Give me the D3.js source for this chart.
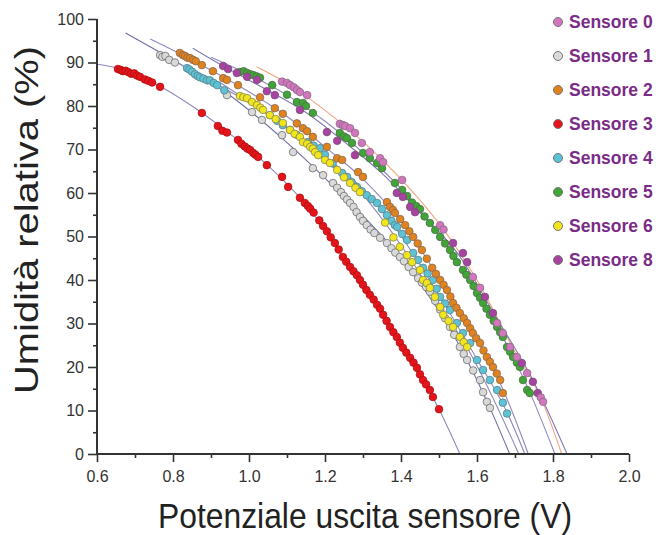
<!DOCTYPE html>
<html><head><meta charset="utf-8">
<script src="https://cdn.jsdelivr.net/npm/d3@7"></script>
<style>
html,body{margin:0;padding:0;background:#fff;}
svg{display:block;font-family:"Liberation Sans",Arial,sans-serif;}
</style></head>
<body><svg id="c" width="663" height="535"></svg>
<script>
// ---------- data ----------
const sensorNames = ["Sensore 0","Sensore 1","Sensore 2","Sensore 3","Sensore 4","Sensore 5","Sensore 6","Sensore 8"];
const xTicks = [0.6,0.8,1.0,1.2,1.4,1.6,1.8,2.0];
const yTicks = [0,10,20,30,40,50,60,70,80,90,100];
const xLabel = "Potenziale uscita sensore (V)";
const yLabel = "Umidità relativa (%)";

const s0 = [[1.087,85.6],[1.100,85.3],[1.108,84.8],[1.118,84.3],[1.126,83.7],[1.134,83.2],[1.153,82.5],[1.239,75.9],[1.247,75.6],[1.253,75.4],[1.266,74.9],[1.279,73.8],[1.297,71.5],[1.318,69.4],[1.345,68.0],[1.353,67.1],[1.403,63.0],[1.503,52.6],[1.512,51.6],[1.589,40.7],[1.608,38.2],[1.653,30.1],[1.668,27.8],[1.687,24.6],[1.705,22.3],[1.732,18.6],[1.768,13.0],[1.774,12.0]];
const s1 = [[0.766,91.7],[0.772,91.3],[0.780,91.5],[0.790,90.6],[0.805,90.0],[0.942,82.5],[1.008,78.6],[1.034,76.8],[1.087,73.3],[1.116,69.4],[1.168,65.7],[1.195,64.1],[1.221,62.3],[1.232,61.2],[1.242,60.2],[1.250,59.3],[1.258,58.5],[1.266,57.7],[1.275,56.8],[1.283,55.6],[1.292,54.5],[1.300,53.6],[1.310,52.6],[1.320,51.6],[1.330,50.8],[1.345,49.7],[1.363,48.5],[1.375,47.3],[1.385,46.3],[1.397,45.3],[1.408,44.3],[1.420,43.0],[1.432,41.8],[1.445,40.4],[1.455,39.4],[1.466,38.4],[1.476,37.3],[1.490,35.2],[1.503,33.2],[1.516,31.2],[1.529,29.2],[1.540,27.4],[1.555,24.6],[1.565,23.0],[1.574,21.6],[1.590,19.2],[1.608,17.0],[1.616,14.2],[1.626,12.0],[1.634,10.6]];
const s2 = [[0.818,92.2],[0.826,91.7],[0.832,91.5],[0.838,91.1],[0.845,91.0],[0.853,90.6],[0.860,90.3],[0.876,89.4],[0.905,88.0],[0.932,86.4],[0.942,86.0],[0.971,84.8],[1.029,82.0],[1.068,79.5],[1.089,78.2],[1.126,76.0],[1.142,74.9],[1.153,74.2],[1.168,72.9],[1.205,70.6],[1.232,68.0],[1.245,67.6],[1.287,64.8],[1.300,63.7],[1.363,57.9],[1.371,56.8],[1.379,56.1],[1.384,55.4],[1.398,54.0],[1.411,52.6],[1.422,51.2],[1.432,49.9],[1.444,48.4],[1.455,46.9],[1.468,44.9],[1.482,42.8],[1.492,41.4],[1.503,40.0],[1.512,38.9],[1.521,37.7],[1.530,36.2],[1.537,34.7],[1.546,33.6],[1.555,32.4],[1.565,31.2],[1.574,30.1],[1.582,28.9],[1.589,27.8],[1.598,26.6],[1.608,25.5],[1.617,23.8],[1.626,22.3],[1.634,21.2],[1.642,20.0],[1.652,18.5],[1.661,17.0],[1.668,14.0]];
const s3 = [[0.655,88.5],[0.662,88.3],[0.668,88.0],[0.675,88.1],[0.682,87.8],[0.690,87.4],[0.698,87.5],[0.705,87.0],[0.713,86.7],[0.726,86.1],[0.735,85.8],[0.745,85.4],[0.766,84.4],[0.876,78.4],[0.918,75.4],[0.930,74.3],[0.942,73.9],[0.971,72.2],[0.980,71.3],[0.989,70.7],[0.996,70.2],[1.003,69.9],[1.011,69.2],[1.017,68.8],[1.024,68.3],[1.047,66.4],[1.087,63.7],[1.103,61.4],[1.134,58.9],[1.147,57.7],[1.155,57.0],[1.161,56.4],[1.170,55.5],[1.185,53.7],[1.195,52.4],[1.205,51.2],[1.215,49.8],[1.226,48.5],[1.236,47.0],[1.247,45.3],[1.256,44.2],[1.266,43.0],[1.275,42.0],[1.284,41.1],[1.292,40.0],[1.300,38.9],[1.309,37.7],[1.318,36.6],[1.328,35.5],[1.337,34.3],[1.345,33.4],[1.353,32.0],[1.362,30.6],[1.371,29.2],[1.380,28.0],[1.389,26.9],[1.397,25.6],[1.405,24.4],[1.414,23.3],[1.424,22.1],[1.433,21.0],[1.442,19.8],[1.450,18.3],[1.458,17.0],[1.466,16.0],[1.476,14.7],[1.484,13.1],[1.500,10.3]];
const s4 = [[0.837,88.7],[0.843,88.4],[0.850,87.9],[0.858,87.3],[0.865,86.9],[0.871,86.6],[0.880,86.3],[0.890,85.9],[0.897,85.9],[0.907,85.3],[0.916,84.8],[0.935,83.6],[1.055,77.9],[1.074,76.6],[1.089,75.6],[1.108,74.5],[1.125,73.4],[1.155,71.7],[1.170,70.9],[1.187,70.3],[1.200,68.8],[1.220,66.8],[1.245,64.6],[1.258,63.7],[1.270,62.5],[1.284,61.4],[1.297,60.4],[1.310,59.5],[1.323,58.6],[1.337,57.7],[1.350,56.3],[1.363,54.9],[1.375,53.6],[1.384,52.6],[1.390,52.2],[1.403,50.6],[1.416,49.2],[1.432,46.2],[1.445,44.6],[1.458,42.8],[1.470,41.5],[1.484,40.0],[1.494,38.0],[1.503,36.1],[1.516,34.6],[1.529,33.1],[1.547,30.1],[1.563,27.8],[1.582,25.5],[1.600,21.6],[1.616,19.3],[1.634,17.0],[1.653,14.7],[1.668,11.8],[1.679,9.3]];
const s5 = [[0.976,87.8],[0.986,88.0],[0.995,87.6],[1.003,87.3],[1.011,87.1],[1.020,86.8],[1.029,86.5],[1.061,84.8],[1.100,82.6],[1.126,80.9],[1.142,80.7],[1.150,80.0],[1.168,78.4],[1.239,73.8],[1.250,73.0],[1.258,72.6],[1.271,71.5],[1.300,69.2],[1.318,68.0],[1.337,66.9],[1.350,65.7],[1.384,62.3],[1.403,60.7],[1.416,59.3],[1.429,57.8],[1.440,57.0],[1.450,56.3],[1.462,54.6],[1.476,53.1],[1.490,51.5],[1.503,49.9],[1.516,48.4],[1.529,46.9],[1.538,45.5],[1.547,44.1],[1.563,42.3],[1.572,41.2],[1.582,40.0],[1.591,38.6],[1.600,37.0],[1.608,35.9],[1.616,34.7],[1.625,33.4],[1.634,32.0],[1.644,30.6],[1.653,29.2],[1.661,28.0],[1.668,26.9],[1.679,24.6],[1.687,23.5],[1.695,22.3],[1.705,21.0],[1.713,20.0],[1.721,17.0],[1.732,14.7],[1.739,14.0]];
const s6 = [[0.976,82.3],[0.985,82.0],[0.995,81.8],[1.008,80.9],[1.021,80.2],[1.030,79.6],[1.037,79.1],[1.055,77.9],[1.070,77.0],[1.089,76.1],[1.108,74.5],[1.120,73.6],[1.134,72.9],[1.142,71.7],[1.153,71.3],[1.161,70.6],[1.168,70.2],[1.174,69.4],[1.182,68.7],[1.200,67.6],[1.213,66.9],[1.232,65.3],[1.250,63.6],[1.266,62.3],[1.280,61.2],[1.292,60.2],[1.358,53.2],[1.380,49.8],[1.397,47.6],[1.416,45.7],[1.429,44.1],[1.450,42.3],[1.458,40.0],[1.468,39.3],[1.476,38.2],[1.489,36.1],[1.503,33.8],[1.511,32.0],[1.525,30.6],[1.537,29.2],[1.555,26.9],[1.565,25.7],[1.574,24.6]];
const s8 = [[0.932,89.2],[0.945,88.5],[0.968,87.6],[0.995,86.7],[1.021,86.0],[1.047,83.4],[1.068,82.5],[1.134,79.1],[1.205,74.0],[1.232,72.0],[1.279,68.7],[1.389,60.0],[1.405,59.1],[1.424,56.8],[1.437,55.6],[1.537,48.5],[1.563,46.2],[1.574,44.1],[1.621,36.1],[1.642,32.4],[1.718,20.9],[1.747,16.6],[1.760,14.0]];

// fitted curves
const fit0 = [[1.02,89.0],[1.10,85.2],[1.20,79.0],[1.30,71.8],[1.40,63.2],[1.50,53.0],[1.60,40.0],[1.70,23.5],[1.77,12.5],[1.823,0]];
const fit1 = [[0.675,96.8],[0.80,90.6],[0.95,82.4],[1.10,71.6],[1.25,59.1],[1.40,45.0],[1.55,25.5],[1.634,10.6],[1.686,0]];
const fit2 = [[0.74,95.4],[0.85,90.6],[0.97,84.8],[1.10,77.6],[1.20,70.6],[1.30,63.2],[1.40,53.5],[1.50,40.5],[1.60,26.5],[1.67,14.5],[1.735,0]];
const fit3 = [[0.60,89.6],[0.66,88.6],[0.75,85.3],[0.85,80.0],[0.95,73.6],[1.05,66.3],[1.15,57.3],[1.25,45.0],[1.35,32.3],[1.45,18.3],[1.50,10.3],[1.555,0]];
const fit4 = [[0.78,91.4],[0.90,85.8],[1.05,78.0],[1.20,68.5],[1.35,56.2],[1.50,36.5],[1.60,21.8],[1.68,9.4],[1.726,0]];
const fit5 = [[0.90,91.2],[1.00,87.2],[1.10,82.5],[1.20,76.5],[1.30,69.3],[1.40,61.0],[1.50,50.3],[1.60,37.0],[1.70,21.5],[1.74,14.0],[1.805,0]];
const fit6 = [[0.92,85.6],[1.00,81.0],[1.10,75.0],[1.20,67.6],[1.30,59.5],[1.40,48.0],[1.50,34.6],[1.58,23.5],[1.71,0]];
const fit8 = [[0.852,93.3],[0.95,88.3],[1.05,83.6],[1.15,78.5],[1.25,71.8],[1.35,64.5],[1.45,55.5],[1.55,46.0],[1.65,31.5],[1.75,16.5],[1.837,0]];

const seriesPoints = [s0,s1,s2,s3,s4,s5,s6,s8];
const seriesFits = [fit0,fit1,fit2,fit3,fit4,fit5,fit6,fit8];

// ---------- styles ----------
const fills   = ["#d277bd","#d9d9d9","#e0821e","#e3141b","#5cc3d6","#3fa535","#f1e51e","#a6449f"];
const strokes = ["#8a6a88","#6e6e6e","#8a6a50","#b01010","#5a7f8a","#4f6f4a","#8a8650","#7a4a7a"];
const fitColors = ["#f5a27f","#6f6ea6","#8e89bd","#8e89bd","#8e89bd","#8e89bd","#8e89bd","#7f7ab5"];
const drawOrder = [3,1,4,6,2,5,7,0];

// ---------- chart ----------
const svg = d3.select("#c");
const x = d3.scaleLinear().domain([0.6,2.0]).range([97,629]);
const y = d3.scaleLinear().domain([0,100]).range([454,19]);

// fit lines
const line = d3.line().x(d=>x(d[0])).y(d=>y(d[1])).curve(d3.curveMonotoneX);
svg.append("g").selectAll("path").data(seriesFits).join("path")
  .attr("d", d=>line(d)).attr("fill","none")
  .attr("stroke",(d,i)=>fitColors[i]).attr("stroke-width",1.1);

// points
drawOrder.forEach(i=>{
  svg.append("g").selectAll("circle").data(seriesPoints[i]).join("circle")
    .attr("cx",d=>x(d[0])).attr("cy",d=>y(d[1])).attr("r",3.8)
    .attr("fill",fills[i]).attr("stroke",strokes[i]).attr("stroke-width",0.8);
});

// axes
const axisColor = "#333";
const xMinor = d3.range(0.7,2.0,0.2);
const yMinor = d3.range(5,100,10);
const gx = svg.append("g").attr("transform","translate(0,454)");
gx.call(d3.axisBottom(x).tickValues(xTicks).tickFormat(d3.format(".1f")).tickSize(8).tickPadding(9));
gx.selectAll(".tick").filter(()=>false);
svg.append("g").attr("transform","translate(0,454)")
  .call(d3.axisBottom(x).tickValues(xMinor).tickFormat("").tickSize(4)).select(".domain").remove();
const gy = svg.append("g").attr("transform","translate(97,0)");
gy.call(d3.axisLeft(y).tickValues(yTicks).tickSize(9).tickPadding(4));
svg.append("g").attr("transform","translate(97,0)")
  .call(d3.axisLeft(y).tickValues(yMinor).tickFormat("").tickSize(4)).select(".domain").remove();

svg.selectAll(".domain").attr("stroke",axisColor).attr("stroke-width",2);
svg.selectAll(".tick line").attr("stroke",axisColor).attr("stroke-width",1.6);
svg.selectAll(".tick text").attr("fill","#333").style("font-size","16px")
  .style("font-family","'Liberation Sans',Arial,sans-serif");
gx.select(".domain").attr("d","M97,0H629");
gy.select(".domain").attr("d","M0,454V19");

// axis titles
svg.append("text").text(xLabel).attr("x",365).attr("y",528)
  .attr("text-anchor","middle").attr("fill","#222").style("font-size","35px")
  .attr("textLength",414).attr("lengthAdjust","spacingAndGlyphs");
svg.append("text").text(yLabel)
  .attr("transform","translate(38,220) rotate(-90)")
  .attr("text-anchor","middle").attr("fill","#222").style("font-size","33px")
  .attr("textLength",348).attr("lengthAdjust","spacingAndGlyphs");

// legend
const leg = svg.append("g");
const ly = i => 22 + i*34;
leg.selectAll("circle").data(sensorNames).join("circle")
  .attr("cx",558).attr("cy",(d,i)=>ly(i)).attr("r",4.5)
  .attr("fill",(d,i)=>fills[i]).attr("stroke","#777").attr("stroke-width",1);
leg.selectAll("text").data(sensorNames).join("text")
  .attr("x",569).attr("y",(d,i)=>ly(i)).attr("dy","0.36em")
  .text(d=>d).attr("fill","#7b2c86").style("font-weight","bold").style("font-size","17.5px");
</script>
</body></html>
